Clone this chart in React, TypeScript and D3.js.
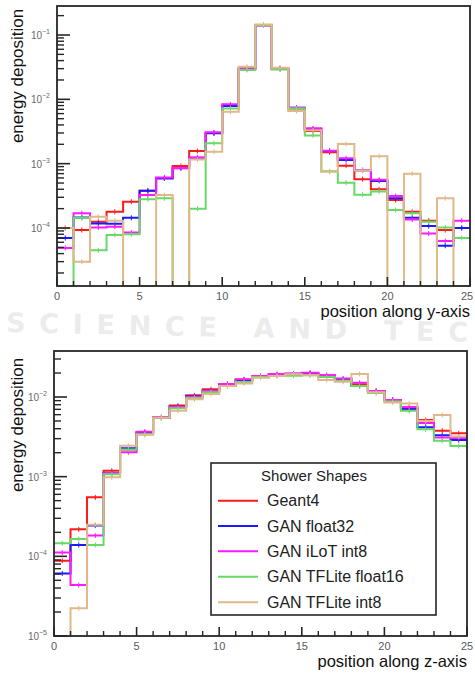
import React from 'react';
import * as d3 from 'd3';

const binCount = 25;
const bins = d3.range(binCount);

const seriesNames = ['Geant4', 'GAN float32', 'GAN iLoT int8', 'GAN TFLite float16', 'GAN TFLite int8'];
const seriesColors = ['#ff1a1a', '#1a1aff', '#ff1aff', '#66d966', '#e0b88a'];

// Shower shape along y-axis (top panel)
const yGeant4 = [1.0e-4, 9.3e-5, 1.25e-4, 1.79e-4, 2.56e-4, 3.8e-4, 6.0e-4, 9.2e-4, 1.57e-3, 3.0e-3, 7.9e-3, 0.030, 0.142, 0.030, 7.2e-3, 3.21e-3, 1.5e-3, 9.3e-4, 5.75e-4, 4.0e-4, 2.72e-4, 1.79e-4, 1.3e-4, 9.3e-5, 1.0e-4];
const yFloat32 = [7.0e-5, 1.45e-4, 1.18e-4, 1.16e-4, 1.44e-4, 3.8e-4, 5.9e-4, 8.45e-4, 1.24e-3, 2.96e-3, 7.9e-3, 0.030, 0.142, 0.030, 7.42e-3, 3.45e-3, 1.57e-3, 1.14e-3, 7.9e-4, 5.4e-4, 2.9e-4, 1.44e-4, 1.07e-4, 5.3e-5, 1.0e-4];
const yIlot = [4.9e-5, 1.69e-4, 1.02e-4, 1.05e-4, 8.5e-5, 3.25e-4, 6.1e-4, 8.6e-4, 1.25e-3, 3.07e-3, 8.35e-3, 0.0303, 0.142, 0.0303, 7.42e-3, 3.54e-3, 1.59e-3, 1.21e-3, 7.9e-4, 5.6e-4, 3.13e-4, 1.35e-4, 8.2e-5, 6.3e-5, 1.3e-4];
const yFloat16 = [0, 1.44e-4, 4.5e-5, 7.8e-5, 8.0e-5, 2.8e-4, 2.9e-4, 0, 2.0e-4, 2.07e-3, 7.2e-3, 0.0286, 0.142, 0.029, 7.2e-3, 2.75e-3, 7.6e-4, 5.05e-4, 3.3e-4, 3.7e-4, 1.9e-4, 1.7e-4, 1.25e-4, 1.02e-4, 7.0e-5];
const yInt8 = [1.0e-4, 3.0e-5, 1.5e-4, 1.3e-4, 0, 0, 3.25e-4, 0, 1.16e-3, 1.53e-3, 6.4e-3, 0.032, 0.145, 0.031, 6.6e-3, 3.3e-3, 7.5e-4, 2.02e-3, 7.8e-4, 1.3e-3, 0, 7.0e-4, 0, 2.9e-4, 0];

// Shower shape along z-axis (bottom panel)
const zGeant4 = [8.8e-5, 2.18e-4, 5.5e-4, 1.19e-3, 2.2e-3, 3.6e-3, 5.5e-3, 7.8e-3, 0.0105, 0.0125, 0.0145, 0.0165, 0.018, 0.019, 0.0195, 0.0198, 0.0185, 0.0168, 0.0145, 0.0118, 0.0092, 0.0073, 5.14e-3, 3.78e-3, 3.5e-3];
const zFloat32 = [6.1e-5, 1.39e-4, 2.43e-4, 1.1e-3, 2.27e-3, 3.55e-3, 5.5e-3, 7.56e-3, 0.0102, 0.012, 0.0143, 0.0163, 0.018, 0.019, 0.0196, 0.0197, 0.018, 0.0163, 0.0137, 0.0119, 0.0092, 0.0070, 4.16e-3, 3.3e-3, 2.88e-3];
const zIlot = [1.12e-4, 4.36e-5, 1.82e-4, 1.1e-3, 2.02e-3, 3.67e-3, 5.6e-3, 7.5e-3, 0.0101, 0.012, 0.0146, 0.0167, 0.0184, 0.0195, 0.0197, 0.0202, 0.0189, 0.0171, 0.0151, 0.0119, 0.0092, 0.0075, 4.7e-3, 3.1e-3, 3.05e-3];
const zFloat16 = [1.46e-4, 1.65e-4, 1.39e-4, 1.07e-3, 2.2e-3, 3.4e-3, 5.5e-3, 7.2e-3, 0.0097, 0.0115, 0.0137, 0.0154, 0.0178, 0.0184, 0.0185, 0.0188, 0.0178, 0.016, 0.0137, 0.0112, 0.0088, 0.0067, 3.93e-3, 2.83e-3, 2.43e-3];
const zInt8 = [0, 2.23e-5, 2.5e-4, 9.8e-4, 2.45e-3, 3.35e-3, 5.5e-3, 6.74e-3, 9.35e-3, 0.0109, 0.0137, 0.0148, 0.0175, 0.0184, 0.0193, 0.0188, 0.0163, 0.0155, 0.0195, 0.0115, 0.0085, 0.0083, 5.0e-3, 5.94e-3, 3.2e-3];

const xTickValues = [0, 5, 10, 15, 20, 25];
const topDecades = [-1, -2, -3, -4];
const bottomDecades = [-2, -3, -4, -5];

const FONT = '"Liberation Sans", Arial, Helvetica, sans-serif';
const AXIS = '#262626';

type PanelProps = {
  left: number; right: number; top: number; bottom: number;
  decHi: number; yHi: number; decLo: number; yLo: number;
  series: number[][];
  decades: number[];
  xTitle: string;
  xTitleY: number;
  tickLabelY: number;
  yLabelRight: number;
  yTitleCenter: number;
};

function Panel(p: PanelProps) {
  const x = d3.scaleLinear().domain([0, binCount]).range([p.left, p.right]);
  const y = d3.scaleLog().domain([Math.pow(10, p.decLo), Math.pow(10, p.decHi)]).range([p.yLo, p.yHi]);
  const yMinVal = y.invert(p.bottom);
  const yMaxVal = y.invert(p.top);
  const yc = (v: number) => (v > 0 ? Math.max(p.top, Math.min(p.bottom, y(v))) : p.bottom);

  const line = d3
    .line<[number, number]>()
    .x((d) => x(d[0]))
    .y((d) => yc(d[1]))
    .curve(d3.curveStepAfter);

  const majorTicks: number[] = [];
  const minorTicks: number[] = [];
  for (let e = Math.floor(Math.log10(yMinVal)) - 1; e <= Math.ceil(Math.log10(yMaxVal)); e++) {
    for (let m = 1; m <= 9; m++) {
      const v = m * Math.pow(10, e);
      if (v < yMinVal || v > yMaxVal) continue;
      if (m === 1) majorTicks.push(v);
      else minorTicks.push(v);
    }
  }
  const xMinor = d3.range(0, binCount + 1).filter((v) => v % 5 !== 0);

  return (
    <g>
      {p.series.map((vals, si) => {
        const pts: [number, number][] = bins.map((i) => [i, vals[i]] as [number, number]);
        pts.push([binCount, vals[binCount - 1]]);
        return (
          <g key={si}>
            <path d={line(pts) || ''} fill="none" stroke={seriesColors[si]} strokeWidth={2} />
            {bins.map((i) =>
              vals[i] > yMinVal && vals[i] < yMaxVal ? (
                <line key={i} x1={x(i + 0.5)} x2={x(i + 0.5)} y1={y(vals[i]) - 2.5} y2={y(vals[i]) + 2.5}
                  stroke={seriesColors[si]} strokeWidth={1} />
              ) : null
            )}
          </g>
        );
      })}
      <rect x={p.left} y={p.top} width={p.right - p.left} height={p.bottom - p.top}
        fill="none" stroke={AXIS} strokeWidth={1.8} />
      {majorTicks.map((v, i) => (
        <line key={'M' + i} x1={p.left} x2={p.left + 13} y1={y(v)} y2={y(v)} stroke={AXIS} strokeWidth={1.6} />
      ))}
      {minorTicks.map((v, i) => (
        <line key={'m' + i} x1={p.left} x2={p.left + 7} y1={y(v)} y2={y(v)} stroke={AXIS} strokeWidth={1.4} />
      ))}
      {xTickValues.map((v) => (
        <line key={'X' + v} x1={x(v)} x2={x(v)} y1={p.bottom} y2={p.bottom - 9} stroke={AXIS} strokeWidth={1.6} />
      ))}
      {xMinor.map((v) => (
        <line key={'x' + v} x1={x(v)} x2={x(v)} y1={p.bottom} y2={p.bottom - 5} stroke={AXIS} strokeWidth={1.4} />
      ))}
      {xTickValues.map((v) => (
        <text key={'XL' + v} x={Math.min(x(v), 467)} y={p.tickLabelY} textAnchor="middle"
          fontSize={11} fill="#5a5a5a" fontFamily={FONT}>{v}</text>
      ))}
      {p.decades.map((e) => (
        <text key={'YL' + e} x={p.yLabelRight} y={y(Math.pow(10, e)) + 4} textAnchor="end"
          fontSize={10} fill="#6a6a6a" fontFamily={FONT}>
          10<tspan fontSize={7} dy={-5}>{'\u2212' + Math.abs(e)}</tspan>
        </text>
      ))}
      <text x={p.right} y={p.xTitleY} textAnchor="end" fontSize={16.5} fill="#111" fontFamily={FONT}>{p.xTitle}</text>
      <text transform={`translate(23,${p.yTitleCenter}) rotate(-90)`} textAnchor="middle" fontSize={17}
        fill="#111" fontFamily={FONT}>energy deposition</text>
    </g>
  );
}

export default function App() {
  const legendX = 211, legendY = 463, legendW = 225, legendH = 152;
  const legendRowY = [500.7, 526, 551.3, 576.7, 602.3];
  return (
    <svg width={475} height={675} style={{ position: 'absolute', left: 0, top: 0, background: '#fff' }}>
      <rect x={0} y={0} width={475} height={675} fill="#fff" />
      <text x={6} y={337} fontSize={27} fontWeight="bold" fill="#ececec" fontFamily='"DejaVu Sans", sans-serif'
        textLength={462} lengthAdjust="spacing" transform="rotate(1.2,240,330)">SCIENCE AND TEC</text>
      <Panel left={57} right={470} top={6} bottom={286} decHi={-1} yHi={35} decLo={-4} yLo={228}
        series={[yGeant4, yFloat32, yIlot, yFloat16, yInt8]} decades={topDecades}
        xTitle="position along y-axis" xTitleY={317} tickLabelY={300} yLabelRight={50} yTitleCenter={76} />
      <Panel left={54} right={467} top={351} bottom={636} decHi={-2} yHi={397} decLo={-5} yLo={636}
        series={[zGeant4, zFloat32, zIlot, zFloat16, zInt8]} decades={bottomDecades}
        xTitle="position along z-axis" xTitleY={667} tickLabelY={650} yLabelRight={47} yTitleCenter={425} />
      <rect x={legendX} y={legendY} width={legendW} height={legendH} fill="#fff" stroke={AXIS} strokeWidth={1.6} />
      <text x={314} y={481} textAnchor="middle" fontSize={15} fill="#222" fontFamily={FONT}>Shower Shapes</text>
      {seriesNames.map((name, i) => (
        <g key={name}>
          <line x1={218} x2={258} y1={legendRowY[i]} y2={legendRowY[i]} stroke={seriesColors[i]} strokeWidth={2} />
          <text x={267} y={legendRowY[i] + 5.5} fontSize={16} fill="#222" fontFamily={FONT}>{name}</text>
        </g>
      ))}
    </svg>
  );
}
